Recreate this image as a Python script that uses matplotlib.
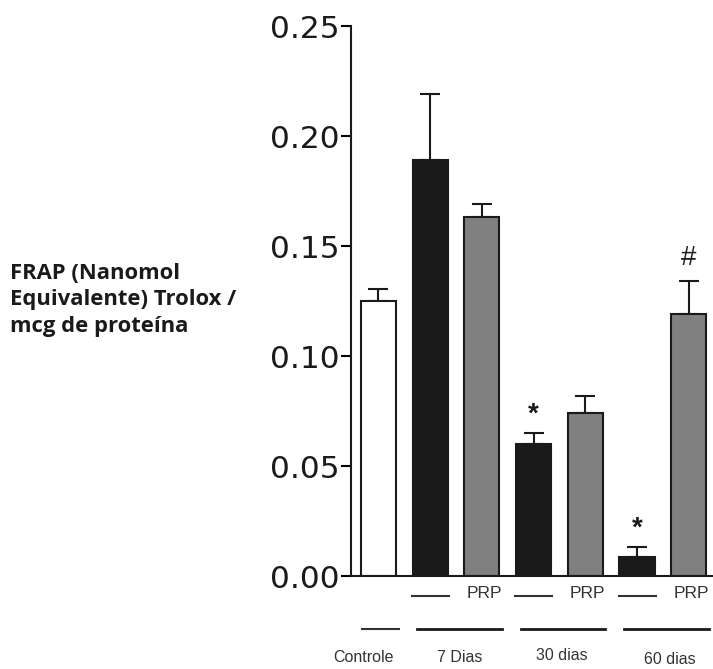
import matplotlib
matplotlib.use("Agg")
import matplotlib.pyplot as plt
import matplotlib.transforms as mtransforms
import numpy as np

# FRAP means and upper SEM per group
groups = ["Controle", "7 Dias", "7 Dias PRP", "30 dias", "30 dias PRP", "60 dias", "60 dias PRP"]
means = [0.125, 0.189, 0.163, 0.060, 0.074, 0.0087, 0.119]
sem = [0.0055, 0.030, 0.006, 0.005, 0.008, 0.0045, 0.015]
colors = ["white", "#1a1a1a", "#808080", "#1a1a1a", "#808080", "#1a1a1a", "#808080"]
marks = {3: "*", 5: "*", 6: "#"}

treat_labels = ["\u2014", "PRP", "\u2014", "PRP", "\u2014", "PRP"]
period_labels = ["Controle", "7 Dias", "30 dias", "60 dias"]
yticks = [0.00, 0.05, 0.10, 0.15, 0.20, 0.25]

plt.rcParams["font.family"] = ["Liberation Sans", "DejaVu Sans"]

fig = plt.figure(figsize=(7.13, 6.69), dpi=100)
ax = fig.add_axes([351 / 713, (669 - 576) / 669, 362 / 713, 550 / 669])

x = np.arange(len(groups))
ax.bar(x, means, width=0.68, color=colors, edgecolor="#1a1a1a", linewidth=1.5, zorder=2)
ax.errorbar(x, means, yerr=[np.zeros(len(sem)), sem], fmt="none", ecolor="#1a1a1a",
            elinewidth=1.5, capsize=7.5, capthick=1.5, zorder=1)

for i, m in marks.items():
    top = means[i] + sem[i]
    if m == "*":
        ax.text(x[i], top + 0.0025, m, ha="center", va="bottom", fontsize=20,
                fontweight="bold", color="#1a1a1a")
    else:
        ax.text(x[i], top + 0.0045, m, ha="center", va="bottom", fontsize=20,
                color="#1a1a1a")

ax.set_xlim(-0.53, 6.47)
ax.set_ylim(0, 0.25)
ax.set_yticks(yticks)
ax.set_yticklabels([f"{v:.2f}" for v in yticks], fontsize=22.5, color="#1a1a1a",
                   family="DejaVu Sans")
ax.tick_params(axis="y", direction="out", length=7, width=1.5, pad=1)
ax.set_xticks([])
for s in ["top", "right"]:
    ax.spines[s].set_visible(False)
for s in ["left", "bottom"]:
    ax.spines[s].set_linewidth(1.5)
    ax.spines[s].set_color("#1a1a1a")

# group labels under the axis
trans = mtransforms.blended_transform_factory(ax.transData, ax.transAxes)
for k, lab in enumerate(treat_labels):
    xi = x[k + 1]
    if lab == "PRP":
        ax.text(xi + 0.05, -0.032, lab, transform=trans, ha="center", va="center",
                fontsize=12.5, color="#333333")
    else:
        ax.plot([xi - 0.35, xi + 0.36], [-0.037, -0.037], transform=trans,
                color="#333333", lw=1.5, clip_on=False)

ax.plot([-0.32, 0.4], [-0.097, -0.097], transform=trans, color="#333333", lw=1.5, clip_on=False)
for g in range(3):
    c = x[2 * g + 1] + 0.57
    ax.plot([c - 0.82, c + 0.82], [-0.097, -0.097], transform=trans,
            color="#1a1a1a", lw=2, clip_on=False)

label_x = [-0.28, 1.58, 3.54, 5.64]
label_y = [-0.149, -0.149, -0.145, -0.152]
for lx, ly, lab in zip(label_x, label_y, period_labels):
    ax.text(lx, ly, lab, transform=trans, ha="center", va="center",
            fontsize=11.5, color="#333333")

fig.text(10 / 713, 1 - 300 / 669, "FRAP (Nanomol\nEquivalente) Trolox /\nmcg de prote\u00edna",
         ha="left", va="center", fontsize=15.8, fontweight="bold", family="Open Sans",
         linespacing=1.33, color="#1a1a1a")

fig.savefig("out.png", dpi=100, facecolor="white")
